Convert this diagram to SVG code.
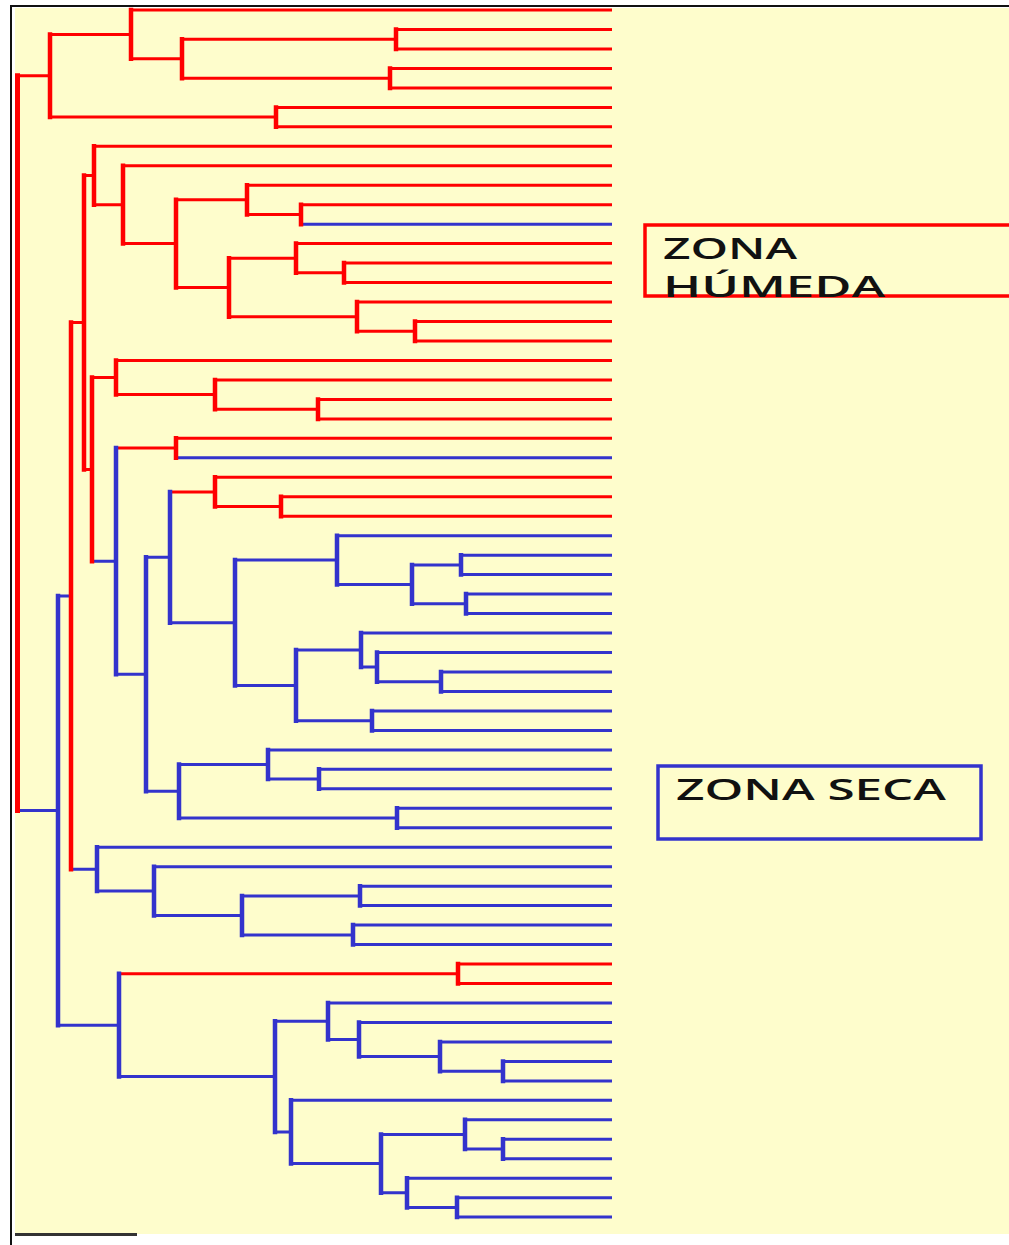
<svg xmlns="http://www.w3.org/2000/svg" width="1009" height="1245" viewBox="0 0 1009 1245">
<style>
.r{stroke:#ff0000;fill:none}
.b{stroke:#3333cc;fill:none}
.h{stroke-width:3}
.v{stroke-width:4.5;stroke-linecap:square}
.lbl{font-family:"Open Sans","DejaVu Sans",sans-serif;font-size:28px;font-weight:600;fill:#111}
</style>
<rect x="0" y="0" width="1009" height="1245" fill="#ffffff"/>
<rect x="15" y="8" width="994" height="1226" fill="#fefdcc"/>
<path d="M10,6 H1009 M11,5 V1245" stroke="#111" stroke-width="2" fill="none"/>
<line x1="15" y1="1234.5" x2="137" y2="1234.5" stroke="#333" stroke-width="3"/>
<g id="connectors">
<path class="r h" d="M131,10H612 M396,29.5H612 M396,48.9H612 M390,68.4H612 M390,87.9H612 M276,107.4H612 M276,126.8H612 M94,146.3H612 M123,165.8H612 M247,185.2H612 M301,204.7H612 M296,243.6H612 M344,263.1H612 M344,282.6H612 M357,302.1H612 M415,321.5H612 M415,341H612 M116,360.5H612 M215,379.9H612 M318,399.4H612 M318,418.9H612 M176,438.3H612 M215,477.3H612 M281,496.8H612 M281,516.2H612 M458,964H612 M458,983.5H612
M182,39.2H396 M182,78.2H390 M131,58.7H182 M50,34.4H131 M50,117.1H276 M17,75.7H50
M247,214.5H301 M176,199.8H247 M296,272.8H344 M229,258.2H296 M357,331.3H415 M229,316.7H357 M176,287.5H229 M123,243.6H176 M94,204.7H123 M84,175.5H94
M215,409.2H318 M116,394.5H215 M92,377.5H116 M116,448H176 M215,506.5H281 M170,491.9H215 M84,469.4H92 M71,322.5H84 M119,973.8H458"/>
<path class="b h" d="M301,224.2H612 M176,457.8H612 M337,535.7H612 M461,555.2H612 M461,574.6H612 M466,594.1H612 M466,613.6H612 M361,633H612 M377,652.5H612 M441,672H612 M441,691.5H612 M372,710.9H612 M372,730.4H612 M268,749.9H612 M319,769.3H612 M319,788.8H612 M397,808.3H612 M397,827.7H612 M97,847.2H612 M154,866.7H612 M360,886.2H612 M360,905.6H612 M353,925.1H612 M353,944.6H612 M328,1003H612 M359,1022.4H612 M440,1041.9H612 M503,1061.4H612 M503,1080.9H612 M291,1100.3H612 M465,1119.8H612 M503,1139.3H612 M503,1158.7H612 M407,1178.2H612 M457,1197.7H612 M457,1217.1H612
M412,564.9H461 M412,603.8H466 M337,584.4H412 M235,560H337 M377,681.7H441 M361,667.1H377 M296,650H361 M296,720.7H372 M235,685.4H296 M170,622.7H235 M146,557.3H170 M268,779.1H319 M179,764.5H268 M179,818H397 M146,791.3H179 M116,674.3H146 M92,561.2H116
M242,895.9H360 M242,934.9H353 M154,915.4H242 M97,891.1H154 M71,869.2H97 M58,595.9H71
M440,1071.2H503 M359,1056.5H440 M328,1039.5H359 M275,1021.2H328 M465,1149H503 M381,1134.4H465 M407,1207.4H457 M381,1192.8H407 M291,1163.6H381 M275,1132H291 M119,1076.6H275 M58,1025.2H119 M17,810.5H58"/>
<path class="b v" d="M461,555.2V574.6 M466,594.1V613.6 M412,564.9V603.8 M337,535.7V584.4 M441,672V691.5 M377,652.5V681.7 M361,633V667.1 M372,710.9V730.4 M296,650V720.7 M235,560V685.4 M170,491.9V622.7 M319,769.3V788.8 M268,749.9V779.1 M397,808.3V827.7 M179,764.5V818 M146,557.3V791.3 M116,448V674.3
M360,886.2V905.6 M353,925.1V944.6 M242,895.9V934.9 M154,866.7V915.4 M97,847.2V891.1
M503,1061.4V1080.9 M440,1041.9V1071.2 M359,1022.4V1056.5 M328,1003V1039.5 M503,1139.3V1158.7 M465,1119.8V1149 M457,1197.7V1217.1 M407,1178.2V1207.4 M381,1134.4V1192.8 M291,1100.3V1163.6 M275,1021.2V1132 M119,973.8V1076.6 M58,595.9V1025.2"/>
<path class="r v" d="M396,29.5V48.9 M390,68.4V87.9 M182,39.2V78.2 M131,10V58.7 M276,107.4V126.8 M50,34.4V117.1
M301,204.7V224.2 M247,185.2V214.5 M344,263.1V282.6 M296,243.6V272.8 M415,321.5V341 M357,302.1V331.3 M229,258.2V316.7 M176,199.8V287.5 M123,165.8V243.6 M94,146.3V204.7
M318,399.4V418.9 M215,379.9V409.2 M116,360.5V394.5 M176,438.3V457.8 M281,496.8V516.2 M215,477.3V506.5 M92,377.5V561.2 M84,175.5V469.4 M71,322.5V869.2 M458,964V983.5"/>
<path class="r" d="M17.5,75.7V810.5" stroke-width="5" stroke-linecap="square"/>
</g>
<g id="node-zona-humeda">
<path d="M1012,225H645V296H1012" fill="none" stroke="#ff0000" stroke-width="3.5"/>
<text class="lbl" x="663" y="259" textLength="134" lengthAdjust="spacingAndGlyphs">ZONA</text>
<text class="lbl" x="663" y="297" textLength="222" lengthAdjust="spacingAndGlyphs">HÚMEDA</text>
</g>
<g id="node-zona-seca">
<rect x="658" y="766" width="323" height="73" fill="none" stroke="#3333cc" stroke-width="3.5"/>
<text class="lbl" x="676" y="800" textLength="270" lengthAdjust="spacingAndGlyphs">ZONA SECA</text>
</g>
</svg>
